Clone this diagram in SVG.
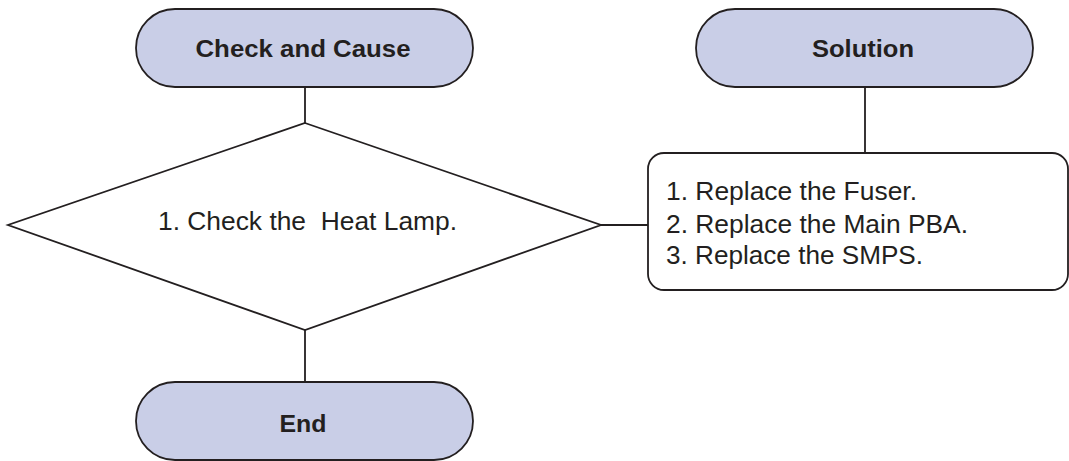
<svg xmlns="http://www.w3.org/2000/svg" width="1069" height="461" viewBox="0 0 1069 461">
<style>
.term{fill:#c9cee7;stroke:#231f20;stroke-width:1.8}
.shape{fill:#ffffff;stroke:#231f20;stroke-width:1.8}
.conn{stroke:#231f20;stroke-width:1.8;fill:none}
.hd{font-family:"Liberation Sans",Arial,sans-serif;font-weight:bold;font-size:24px;fill:#231f20;text-anchor:middle}
.tx{font-family:"Liberation Sans",Arial,sans-serif;font-size:25px;fill:#231f20;white-space:pre}
</style>
<rect x="0" y="0" width="1069" height="461" fill="#ffffff"/>
<g id="connectors">
<line class="conn" x1="305" y1="87" x2="305" y2="123"/>
<line class="conn" x1="305" y1="330" x2="305" y2="382"/>
<line class="conn" x1="865" y1="87" x2="865" y2="153"/>
<line class="conn" x1="601" y1="225" x2="648" y2="225"/>
</g>
<g id="check-and-cause">
<rect class="term" x="136" y="9" width="337" height="78" rx="39" ry="39"/>
<text class="hd" x="303" y="57" textLength="215" lengthAdjust="spacingAndGlyphs">Check and Cause</text>
</g>
<g id="solution">
<rect class="term" x="696" y="9" width="337" height="78" rx="39" ry="39"/>
<text class="hd" x="863" y="57" textLength="102" lengthAdjust="spacingAndGlyphs">Solution</text>
</g>
<g id="decision">
<polygon class="shape" points="305,123 601,225 305,330 8,225"/>
<text class="tx" x="158" y="230" xml:space="preserve" textLength="299" lengthAdjust="spacingAndGlyphs">1. Check the  Heat Lamp.</text>
</g>
<g id="solution-box">
<rect class="shape" x="648" y="153" width="420" height="137" rx="16" ry="16"/>
<text class="tx" x="666" y="200" textLength="251" lengthAdjust="spacingAndGlyphs">1. Replace the Fuser.</text>
<text class="tx" x="666" y="233" textLength="302" lengthAdjust="spacingAndGlyphs">2. Replace the Main PBA.</text>
<text class="tx" x="666" y="264" textLength="257" lengthAdjust="spacingAndGlyphs">3. Replace the SMPS.</text>
</g>
<g id="end">
<rect class="term" x="136" y="382" width="337" height="78" rx="39" ry="39"/>
<text class="hd" x="303" y="432" textLength="47" lengthAdjust="spacingAndGlyphs">End</text>
</g>
</svg>
